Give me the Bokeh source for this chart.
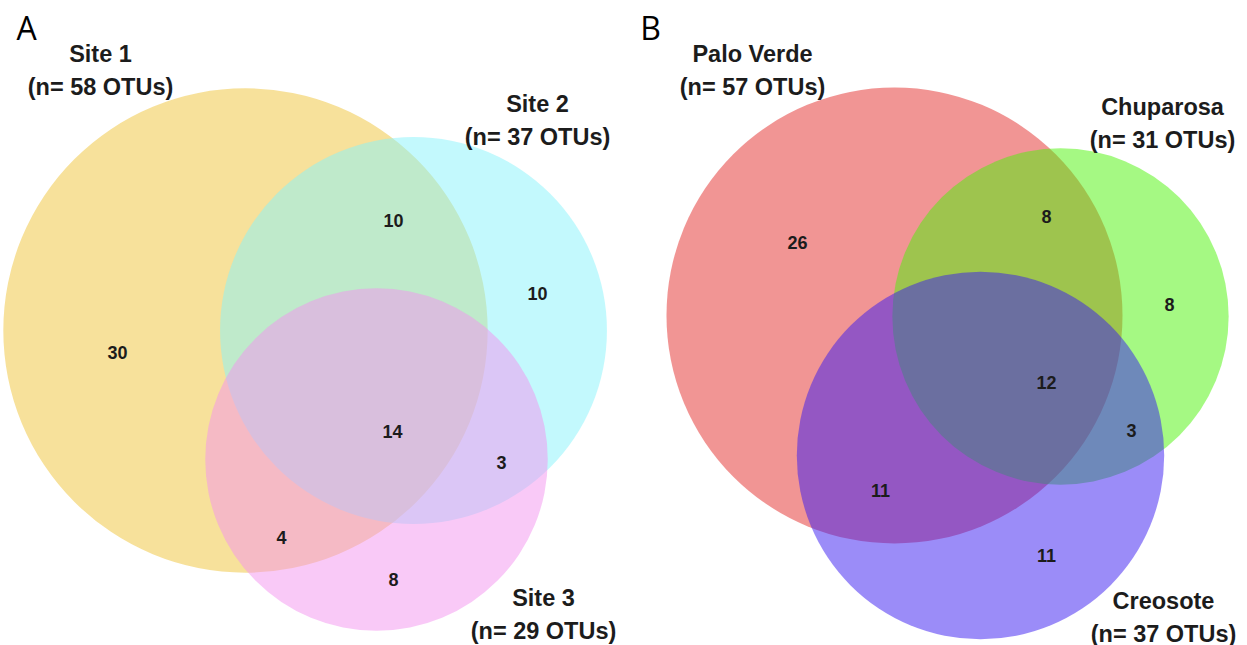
import math

from bokeh.core.properties import value
from bokeh.embed import file_html
from bokeh.models import Range1d
from bokeh.plotting import figure
from bokeh.resources import INLINE

# ---- data -------------------------------------------------------------
# Region keys flag membership in (set 1, set 2, set 3)
region_keys = ["100", "110", "010", "111", "011", "101", "001"]

sites_a = ["Site 1", "Site 2", "Site 3"]
counts_a = [30, 10, 10, 14, 3, 4, 8]

plants_b = ["Palo Verde", "Chuparosa", "Creosote"]
counts_b = [26, 8, 8, 12, 3, 11, 11]

# ---- layout -----------------------------------------------------------
W, H = 1247, 645

panels = [
    dict(
        letter="A", letter_xy=(26, 27),
        names=sites_a, counts=counts_a,
        centers=[(245, 330), (413, 330), (376, 459)],
        scale=31.8,
        fills=["#EFC337", "#87F3FB", "#F393EF"],
        name_xy=[(100, 53), (537, 103), (543, 597)],
        region_xy=[(117, 352), (393, 220), (537, 293), (392, 431),
                   (501, 462), (281, 537), (393, 579)],
    ),
    dict(
        letter="B", letter_xy=(650, 27),
        names=plants_b, counts=counts_b,
        centers=[(894, 315), (1060, 316), (980, 455)],
        scale=30.2,
        fills=["#E32B29", "#4BF307", "#3719F1"],
        name_xy=[(752, 53), (1162, 106), (1163, 600)],
        region_xy=[(797, 242), (1046, 216), (1169, 304), (1046, 382),
                   (1131, 430), (880, 490), (1046, 555)],
    ),
]

p = figure(width=W, height=H, output_backend="svg", toolbar_location=None,
           x_range=Range1d(0, W), y_range=Range1d(H, 0), min_border=0)
p.axis.visible = False
p.grid.visible = False
p.outline_line_color = None
p.background_fill_color = "white"
p.border_fill_color = "white"

label_font = value("Liberation Sans")
ink = "#1c1c1c"

for panel in panels:
    names, counts = panel["names"], panel["counts"]
    # set sizes from the region counts
    totals = [sum(c for k, c in zip(region_keys, counts) if k[i] == "1")
              for i in range(3)]
    radii = [panel["scale"] * math.sqrt(n) for n in totals]

    for (cx, cy), r, col in zip(panel["centers"], radii, panel["fills"]):
        p.circle(x=cx, y=cy, radius=r, fill_color=col, fill_alpha=0.5,
                 line_color=None)

    rx = [xy[0] for xy in panel["region_xy"]]
    ry = [xy[1] for xy in panel["region_xy"]]
    p.text(x=rx, y=ry, text=[str(c) for c in counts],
           text_font=label_font, text_font_style="bold",
           text_font_size="18px", text_color=ink,
           text_align="center", text_baseline="middle")

    nx = [xy[0] for xy in panel["name_xy"]]
    ny = [xy[1] for xy in panel["name_xy"]]
    p.text(x=nx, y=ny, text=names,
           text_font=label_font, text_font_style="bold",
           text_font_size="23.5px", text_color=ink,
           text_align="center", text_baseline="middle")
    p.text(x=nx, y=[y + 33 for y in ny],
           text=[f"(n= {n} OTUs)" for n in totals],
           text_font=label_font, text_font_style="bold",
           text_font_size="23.5px", text_color=ink,
           text_align="center", text_baseline="middle")

    lx, ly = panel["letter_xy"]
    p.text(x=[lx], y=[ly], text=[panel["letter"]],
           text_font=value("Open Sans"), text_font_size="32px",
           text_color="black", text_align="center", text_baseline="middle")

open("out.html", "w").write(file_html(p, INLINE))
